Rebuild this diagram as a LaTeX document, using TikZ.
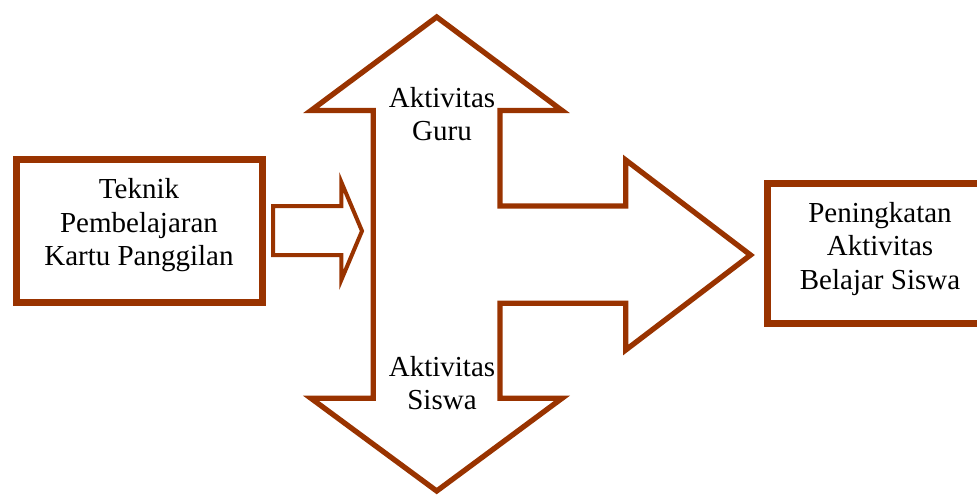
\documentclass[tikz,border=0pt]{standalone}
\usepackage{fontspec}
\setmainfont{Liberation Serif}
\definecolor{rust}{RGB}{153,51,0}
\begin{document}
\begin{tikzpicture}[x=1pt,y=-1pt,
  box/.style={draw=rust,line width=6.5pt,rectangle,inner sep=0pt,fill=white},
  bigarrow/.style={draw=rust,line width=5.3pt,line join=miter},
  smallarrow/.style={draw=rust,line width=4pt,line join=miter},
  txt/.style={align=center,font=\fontsize{29}{33.5}\selectfont,inner sep=0pt}]
\useasboundingbox (0,0) rectangle (977,496);
\clip (0,0) rectangle (977,496);
% boxes
\node[box,minimum width=246.4pt,minimum height=143pt] (teknik) at (139.5,230.8) {};
\node[box,minimum width=242.7pt,minimum height=140pt] (hasil) at (888.6,253.3) {};
% small arrow
\draw[smallarrow] (273,206) -- (341.3,206) -- (341.3,182) -- (362,231)
  -- (341.3,280) -- (341.3,255) -- (273,255) -- cycle;
% big cross-shaped arrow
\draw[bigarrow] (436.7,17) -- (562,110.5) -- (500,110.5) -- (500,206)
  -- (625.7,206) -- (625.7,160) -- (750.5,255) -- (625.7,350) -- (625.7,303.3)
  -- (500,303.3) -- (500,398.3) -- (562,398.3) -- (436.7,491) -- (311,398.3)
  -- (373.3,398.3) -- (373.3,110.5) -- (311,110.5) -- cycle;
% texts
\node[txt] (teknikT) at (139,225.2) {Teknik\\Pembelajaran\\Kartu Panggilan};
\node[txt] (hasilT) at (880,248.6) {Peningkatan\\Aktivitas\\Belajar Siswa};
\node[txt] (guru) at (442,114) {Aktivitas\\Guru};
\node[txt] (siswa) at (442,383) {Aktivitas\\Siswa};
\end{tikzpicture}
\end{document}
